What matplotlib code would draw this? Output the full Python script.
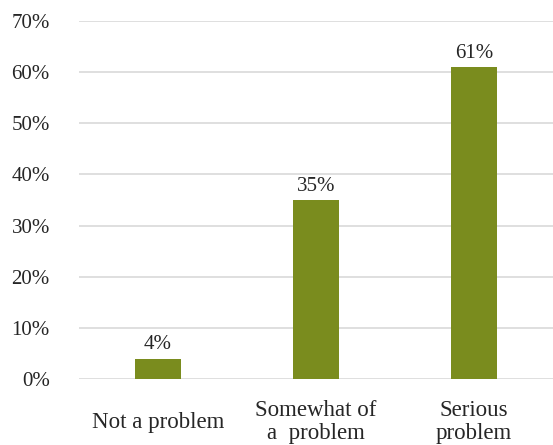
import numpy as np
import matplotlib
matplotlib.use("Agg")
import matplotlib.pyplot as plt

# survey responses, share of respondents (%)
categories = ["Not a problem", "Somewhat of\na  problem", "Serious\nproblem"]
shares = [4, 35, 61]
yticks = [0, 10, 20, 30, 40, 50, 60, 70]

BAR = "#7a8c1e"
GRID = "#d9d9d9"
TEXT = "#262626"

plt.rcParams["font.family"] = ["Liberation Serif", "DejaVu Serif"]

fig = plt.figure(figsize=(5.53, 4.45), dpi=100)
ax = fig.add_axes([79/553, 1 - 379/445, (553 - 79)/553, (379 - 21)/445])

x = np.arange(len(categories))
bars = ax.bar(x, shares, width=0.29, color=BAR, zorder=3)
for b, v in zip(bars, shares):
    ax.annotate(f"{v}%", (b.get_x() + b.get_width()/2, b.get_height()),
                xytext=(0, 3), textcoords="offset points",
                ha="center", va="bottom", fontsize=15, color=TEXT)

ax.set_xlim(-0.5, 2.5)
ax.set_ylim(0, 70)
ax.set_yticks(yticks)
ax.set_yticklabels([f"{t}%" for t in yticks])
ax.set_xticks(x)
ax.set_xticklabels(categories)
for lab in ax.get_xticklabels():
    lab.set_va("center")
    lab.set_linespacing(1.15)

ax.tick_params(axis="both", length=0, colors=TEXT)
ax.tick_params(axis="y", pad=21, labelsize=15)
ax.tick_params(axis="x", pad=31, labelsize=16.5)
ax.grid(axis="y", color=GRID, linewidth=1.2, zorder=0)
for s in ax.spines.values():
    s.set_visible(False)

fig.savefig("out.png", dpi=100)
